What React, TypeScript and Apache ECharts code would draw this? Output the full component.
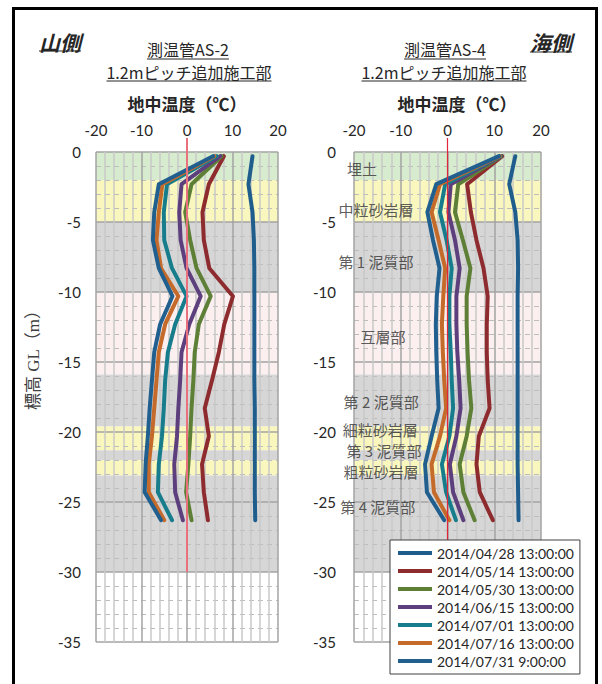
import React, { useEffect, useRef } from "react";
import * as echarts from "echarts";

// Sensor depths below ground level (m)
const depths = [-0.3, -2.3, -4.3, -6.3, -8.3, -10.3, -12.3, -14.3, -16.3, -18.3, -20.3, -22.3, -24.3, -26.3];

const dateLabels = [
  "2014/04/28 13:00:00",
  "2014/05/14 13:00:00",
  "2014/05/30 13:00:00",
  "2014/06/15 13:00:00",
  "2014/07/01 13:00:00",
  "2014/07/16 13:00:00",
  "2014/07/31 9:00:00",
];
const lineColors = ["#1f5d8c", "#8e2b2e", "#5e7f36", "#5d3f7d", "#177d8c", "#c46a2a", "#215f8f"];

// Tube AS-2 (mountain side), ground temperature in °C
const as2_0428 = [14.4, 13.5, 14.4, 14.7, 14.8, 14.8, 14.8, 14.8, 14.8, 14.9, 14.9, 14.9, 14.9, 15.0];
const as2_0514 = [8.1, 4.8, 3.4, 3.7, 4.9, 10.1, 8.2, 7.0, 5.5, 3.9, 4.8, 3.3, 3.7, 4.6];
const as2_0530 = [7.6, 1.0, -0.4, 0.7, 2.1, 5.2, 2.6, 1.7, 1.4, 1.0, 0.7, 0.3, -0.2, 1.0];
const as2_0615 = [7.3, -1.2, -1.7, -1.4, -0.1, 3.0, 0.5, -1.2, -1.5, -1.9, -2.2, -2.8, -2.6, -0.9];
const as2_0701 = [6.5, -4.4, -5.1, -5.0, -3.3, -0.1, -2.6, -4.2, -4.8, -5.1, -5.5, -6.2, -6.4, -3.3];
const as2_0716 = [6.0, -5.4, -6.2, -6.7, -5.7, -1.9, -4.8, -6.2, -6.7, -7.2, -7.7, -8.4, -8.4, -5.0];
const as2_0731 = [5.7, -6.2, -7.2, -7.5, -6.2, -3.2, -5.9, -7.2, -7.7, -8.2, -8.6, -9.1, -9.3, -5.7];

// Tube AS-4 (sea side), ground temperature in °C
const as4_0428 = [14.5, 13.2, 14.5, 15.0, 15.1, 15.0, 15.0, 15.0, 15.0, 15.0, 15.0, 15.0, 15.1, 15.2];
const as4_0514 = [11.7, 4.2, 5.0, 6.2, 7.7, 8.6, 8.4, 8.4, 8.6, 9.0, 6.7, 6.2, 6.9, 9.7];
const as4_0530 = [11.5, 2.3, 1.6, 3.3, 4.9, 4.1, 4.1, 4.3, 4.6, 5.1, 4.1, 2.6, 3.4, 5.8];
const as4_0615 = [11.4, 0.7, 0.2, 1.6, 2.6, 1.9, 1.9, 2.1, 2.5, 2.8, 1.9, 0.5, 1.2, 3.4];
const as4_0701 = [11.3, -0.5, -1.6, -0.2, 0.9, 0.4, 0.4, 0.7, 0.9, 1.2, 0.4, -1.2, -0.3, 1.8];
const as4_0716 = [11.2, -1.6, -3.4, -1.9, -0.5, -0.9, -1.2, -1.0, -0.7, -0.3, -1.6, -3.4, -2.9, 0.4];
const as4_0731 = [11.0, -2.4, -4.3, -3.1, -1.7, -2.3, -2.5, -2.4, -2.2, -1.9, -3.4, -4.8, -4.4, -0.7];

const as2Profiles = [as2_0428, as2_0514, as2_0530, as2_0615, as2_0701, as2_0716, as2_0731];
const as4Profiles = [as4_0428, as4_0514, as4_0530, as4_0615, as4_0701, as4_0716, as4_0731];

// Geological layers (boundaries in m, fill kind per layer)
const layerBounds = [0, -2, -5, -10, -15.9, -19.6, -21.3, -22, -23.1, -30];
const layerKinds = [0, 1, 2, 3, 2, 1, 2, 1, 2];
const layerFills = ["#d7ebcf", "#f9f7bd", "#d6d6d6", "#fcefef"];
const layerNames = ["埋土", "中粒砂岩層", "第 1 泥質部", "互層部", "第 2 泥質部", "細粒砂岩層", "第 3 泥質部", "粗粒砂岩層", "第 4 泥質部"];
const layerLabelX = [-18.3, -15.3, -15.3, -13.8, -14.2, -14.4, -13.6, -14.2, -14.9];
const layerLabelDepth = [-1.2, -4.1, -7.8, -13.2, -17.8, -19.8, -21.3, -22.8, -25.3];

// Zero-degree reference line extent (m)
const zeroLineDepths = [1, -30];

const FONT_JP = "'Noto Sans CJK JP', 'Noto Sans', sans-serif";
const FONT_NUM = "Lato, 'Noto Sans', sans-serif";
const TEXT = "#262626";

function measure(text: string, font: string): number {
  const ctx = document.createElement("canvas").getContext("2d");
  if (!ctx) return text.length * 16;
  ctx.font = font;
  return ctx.measureText(text).width;
}

function headingText(text: string, cx: number, cy: number, size: number, opts: any = {}) {
  const weight = opts.bold ? "bold" : "normal";
  const italic = opts.italic ? "italic" : "normal";
  const items: any[] = [
    {
      type: "text",
      x: cx,
      y: cy,
      silent: true,
      style: {
        text,
        fontSize: size,
        lineHeight: size + 1,
        fontFamily: FONT_JP,
        fontWeight: weight,
        fontStyle: italic,
        fill: TEXT,
        align: "center",
        verticalAlign: "middle",
      },
    },
  ];
  if (opts.underlineY) {
    const w = measure(text, `${italic} ${weight} ${size}px ${FONT_JP}`);
    items.push({
      type: "line",
      silent: true,
      shape: { x1: cx - w / 2, y1: opts.underlineY, x2: cx + w / 2, y2: opts.underlineY },
      style: { stroke: TEXT, lineWidth: 1 },
    });
  }
  return items;
}

function axesFor(gridIndex: number) {
  const x = {
    gridIndex,
    type: "value",
    position: "top",
    min: -20,
    max: 20,
    interval: 10,
    axisLine: { show: false },
    axisTick: { show: false },
    axisLabel: { fontFamily: FONT_NUM, fontSize: 15, color: TEXT, margin: 15 },
    splitLine: { show: true, lineStyle: { color: "#a3a3a3", width: 1.5 } },
    minorTick: { show: false, splitNumber: 5 },
    minorSplitLine: { show: true, lineStyle: { color: "#c9c9c9", width: 1.5 } },
  };
  const y = {
    gridIndex,
    type: "value",
    min: -35,
    max: 0,
    interval: 5,
    axisLine: { show: false },
    axisTick: { show: false },
    axisLabel: { fontFamily: FONT_NUM, fontSize: 15, color: TEXT, margin: gridIndex === 0 ? 15 : 18 },
    splitLine: { show: true, lineStyle: { color: "#a3a3a3", width: 1.5 } },
    minorTick: { show: false, splitNumber: 5 },
    minorSplitLine: { show: true, lineStyle: { color: "#bdbdbd", width: 1, type: [5, 4] } },
  };
  return { x, y };
}

function layerSeries(gridIndex: number) {
  const rows = layerKinds.map((k, i) => [layerBounds[i], layerBounds[i + 1], k]);
  return {
    type: "custom",
    xAxisIndex: gridIndex,
    yAxisIndex: gridIndex,
    z: -1,
    silent: true,
    data: rows,
    renderItem: (params: any, api: any) => {
      const cs = params.coordSys;
      const yTop = api.coord([0, api.value(0)])[1];
      const yBot = api.coord([0, api.value(1)])[1];
      return {
        type: "rect",
        shape: { x: cs.x, y: yTop, width: cs.width, height: yBot - yTop },
        style: { fill: layerFills[api.value(2) as number] },
      };
    },
  };
}

function profileSeries(gridIndex: number, profiles: number[][]) {
  return profiles.map((vals, i) => ({
    type: "line",
    name: dateLabels[i],
    xAxisIndex: gridIndex,
    yAxisIndex: gridIndex,
    data: vals.map((v, j) => [v, depths[j]]),
    symbol: "none",
    smooth: false,
    z: 2,
    lineStyle: { color: lineColors[i], width: 4, join: "round", cap: "round" },
    itemStyle: { color: lineColors[i] },
  }));
}

function zeroLine(gridIndex: number, color: string, width: number) {
  return {
    type: "line",
    xAxisIndex: gridIndex,
    yAxisIndex: gridIndex,
    data: zeroLineDepths.map((d) => [0, d]),
    symbol: "none",
    clip: false,
    silent: true,
    z: 3,
    lineStyle: { color, width },
  };
}

export default function App() {
  const ref = useRef<HTMLDivElement>(null);

  useEffect(() => {
    if (!ref.current) return;
    const chart = echarts.init(ref.current, null, { renderer: "svg" });
    const left = axesFor(0);
    const right = axesFor(1);

    const graphics: any[] = [
      {
        type: "rect",
        silent: true,
        shape: { x: 13.5, y: 8.5, width: 583, height: 700 },
        style: { fill: "none", stroke: "#000", lineWidth: 3 },
      },
      ...headingText("山側", 60, 42, 21, { bold: true, italic: true, underlineY: 51 }),
      ...headingText("海側", 551, 42, 21, { bold: true, italic: true, underlineY: 52 }),
      ...headingText("測温管AS-2", 188, 49, 16, { underlineY: 59 }),
      ...headingText("1.2mピッチ追加施工部", 189, 72, 16, { underlineY: 81 }),
      ...headingText("地中温度（℃）", 187, 103, 17, { bold: true }),
      ...headingText("測温管AS-4", 445, 49, 16, { underlineY: 59 }),
      ...headingText("1.2mピッチ追加施工部", 444, 72, 16, { underlineY: 81 }),
      ...headingText("地中温度（℃）", 457, 103, 17, { bold: true }),
      {
        type: "text",
        x: 33,
        y: 356,
        rotation: Math.PI / 2,
        silent: true,
        style: {
          text: "標高 GL（m）",
          fontSize: 17,
          fontFamily: "'Liberation Serif', 'Noto Sans CJK JP', serif",
          fill: "#404040",
          align: "center",
          verticalAlign: "middle",
        },
      },
    ];

    chart.setOption({
      animation: false,
      backgroundColor: "#ffffff",
      grid: [
        { left: 96, top: 152, width: 182, height: 490 },
        { left: 354, top: 152, width: 187, height: 490 },
      ],
      xAxis: [left.x, right.x],
      yAxis: [left.y, right.y],
      legend: {
        data: dateLabels,
        orient: "vertical",
        left: 390,
        top: 540,
        icon: "rect",
        itemWidth: 34,
        itemHeight: 4,
        itemGap: 4,
        padding: [6, 6, 6, 8],
        backgroundColor: "#ffffff",
        borderColor: "#404040",
        borderWidth: 1,
        selectedMode: false,
        z: 10,
        textStyle: { fontFamily: FONT_NUM, fontSize: 14, color: TEXT, lineHeight: 14 },
      },
      graphic: graphics,
      series: [
        layerSeries(0),
        layerSeries(1),
        ...profileSeries(0, as2Profiles),
        ...profileSeries(1, as4Profiles),
        zeroLine(0, "#e9717e", 2),
        zeroLine(1, "#e2263a", 1.2),
        {
          type: "scatter",
          xAxisIndex: 1,
          yAxisIndex: 1,
          silent: true,
          symbolSize: 1,
          z: 4,
          itemStyle: { color: "rgba(0,0,0,0)" },
          data: layerNames.map((n, i) => ({ name: n, value: [layerLabelX[i], layerLabelDepth[i]] })),
          label: {
            show: true,
            position: "inside",
            formatter: "{b}",
            fontFamily: FONT_JP,
            fontSize: 15,
            lineHeight: 15,
            color: "#333333",
          },
        },
      ],
    });
    return () => chart.dispose();
  }, []);

  return (
    <div
      ref={ref}
      style={{ position: "absolute", left: 0, top: 0, width: 602, height: 684 }}
    />
  );
}
